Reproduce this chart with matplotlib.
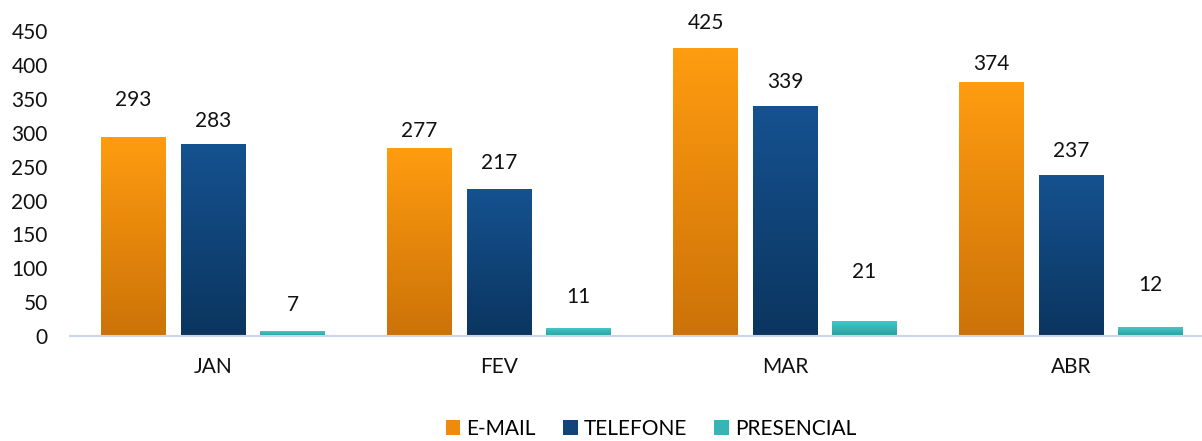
import numpy as np
import matplotlib.pyplot as plt
from matplotlib.colors import LinearSegmentedColormap
from matplotlib.patches import Patch

meses = ["JAN", "FEV", "MAR", "ABR"]
series = ["E-MAIL", "TELEFONE", "PRESENCIAL"]
email = [293, 277, 425, 374]
telefone = [283, 217, 339, 237]
presencial = [7, 11, 21, 12]

# label offsets above each bar (pixels), as in the original
offs = [[38, 17, 25, 19],
        [23, 26, 25, 25],
        [26, 32, 50, 43]]

grads = [("#CC7208", "#FF9C10"), ("#0B355F", "#155290"), ("#2A9E9E", "#40C8C8")]
mid = ["#EE8A0C", "#114478", "#35B5B5"]

plt.rcParams['font.family'] = ['Lato', 'DejaVu Sans']

fig = plt.figure(figsize=(12.02, 4.41), dpi=100)
ax = fig.add_axes([70 / 1202, 105 / 441, 1132 / 1202, 306 / 441])

x = np.arange(len(meses))
w = 0.224
step = 0.278
grad = np.linspace(0, 1, 256).reshape(-1, 1)

for k, vals in enumerate([email, telefone, presencial]):
    cmap = LinearSegmentedColormap.from_list("g%d" % k, grads[k])
    bars = ax.bar(x + (k - 1) * step, vals, w, color="none", zorder=2)
    for j, b in enumerate(bars):
        bx, h = b.get_x(), b.get_height()
        ax.imshow(grad, cmap=cmap, origin="lower", aspect="auto",
                  extent=[bx, bx + w, 0, h], zorder=2)
        ax.annotate(str(vals[j]), (bx + w / 2, h), xytext=(0, offs[k][j]),
                    textcoords="offset pixels", ha="center", va="center",
                    fontsize=15, color="#111111")

ax.set_xlim(-0.5, (1132 / 286) - 0.5)
ax.set_ylim(0, 452)
ax.set_yticks(range(0, 451, 50))
ax.set_xticks(x)
ax.set_xticklabels(meses)
ax.tick_params(length=0, labelsize=15, colors="#111111")
ax.tick_params(axis="y", pad=16)
ax.tick_params(axis="x", pad=15)
for s in ["top", "right", "left"]:
    ax.spines[s].set_visible(False)
ax.spines["bottom"].set_color("#C8D6EA")
ax.spines["bottom"].set_linewidth(1.5)

handles = [Patch(facecolor=mid[k], label=series[k]) for k in range(3)]
fig.legend(handles=handles, loc="center", bbox_to_anchor=(651 / 1202, 12 / 441),
           ncol=3, frameon=False, fontsize=15, handlelength=0.7, handleheight=0.7,
           handletextpad=0.3, columnspacing=1.3)

fig.savefig("out.png", dpi=100)
